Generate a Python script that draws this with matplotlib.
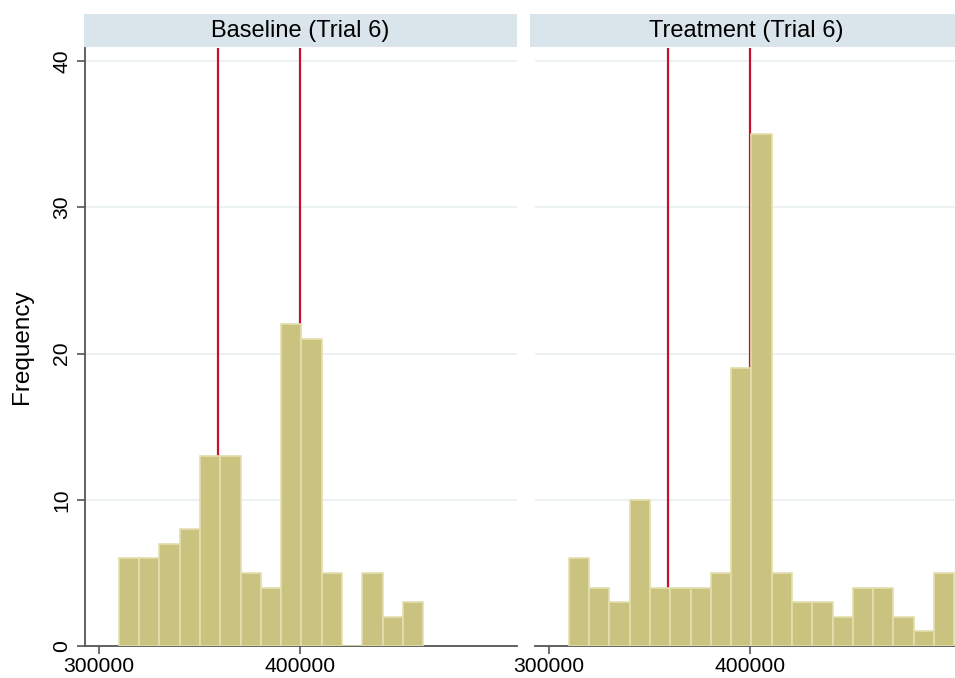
import numpy as np
import matplotlib
matplotlib.use('Agg')
from matplotlib import pyplot as plt

plt.rcParams['font.family'] = ['Liberation Sans', 'DejaVu Sans']

# histogram bins (shared by both panels)
bin_start = 309800
bin_width = 10100
# counts per bin
baseline_counts = [6, 6, 7, 8, 13, 13, 5, 4, 22, 21, 5, 0, 5, 2, 3]
treatment_counts = [6, 4, 3, 10, 4, 4, 4, 5, 19, 35, 5, 3, 3, 2, 4, 4, 2, 1, 5]
panel_titles = ['Baseline (Trial 6)', 'Treatment (Trial 6)']
ref_lines = [359000, 400000]
xticks = [300000, 400000]
yticks = [0, 10, 20, 30, 40]

bar_color = '#cac380'
edge_color = '#e3deae'
line_color = '#c8102e'
strip_color = '#d9e5eb'
grid_color = '#eaf1f3'
axis_color = '#555555'

fig = plt.figure(figsize=(9.55, 6.78), dpi=100)

W, H = 955, 678
ax_w = 432
ax_top, ax_bot = 48, 646
lefts = [85, 535]
strip_h = 33

for i, (left, counts) in enumerate(zip(lefts, [baseline_counts, treatment_counts])):
    ax = fig.add_axes([left / W, (H - ax_bot) / H, ax_w / W, (ax_bot - ax_top) / H])
    edges = bin_start + bin_width * np.arange(len(counts))
    ax.bar(edges, counts, width=bin_width, align='edge', color=bar_color,
           edgecolor=edge_color, linewidth=1.2, zorder=3)
    for v in ref_lines:
        ax.axvline(v, color=line_color, linewidth=1.6, zorder=2)
    ax.set_xlim(293000, 508000)
    ax.set_ylim(0, 40.9)
    ax.set_yticks(yticks)
    ax.set_xticks(xticks)
    ax.set_xticklabels([str(t) for t in xticks], fontsize=15.2)
    ax.grid(axis='y', color=grid_color, linewidth=1.3, zorder=0)
    for s in ['top', 'right']:
        ax.spines[s].set_visible(False)
    ax.spines['bottom'].set_color(axis_color)
    ax.spines['bottom'].set_linewidth(1.3)
    ax.tick_params(axis='x', length=6, width=1.2, color=axis_color, pad=2)
    if i == 0:
        ax.spines['left'].set_color(axis_color)
        ax.spines['left'].set_linewidth(1.3)
        ax.set_yticklabels([str(t) for t in yticks], fontsize=15.2,
                           rotation=90, va='center')
        ax.tick_params(axis='y', length=6, width=1.2, color=axis_color, pad=4)
        ax.set_ylabel('Frequency', fontsize=17.5, labelpad=14)
    else:
        ax.spines['left'].set_visible(False)
        ax.tick_params(axis='y', length=0, labelleft=False)

    # title strip
    sx = left - 1 if i == 0 else left - 5
    sax = fig.add_axes([sx / W, (H - ax_top + 1) / H, (ax_w + 1) / W, strip_h / H])
    sax.set_facecolor(strip_color)
    sax.set_xticks([])
    sax.set_yticks([])
    for s in sax.spines.values():
        s.set_visible(False)
    sax.text(0.5, 0.5, panel_titles[i], ha='center', va='center', fontsize=17,
             transform=sax.transAxes)

fig.savefig('out.png', dpi=100)
